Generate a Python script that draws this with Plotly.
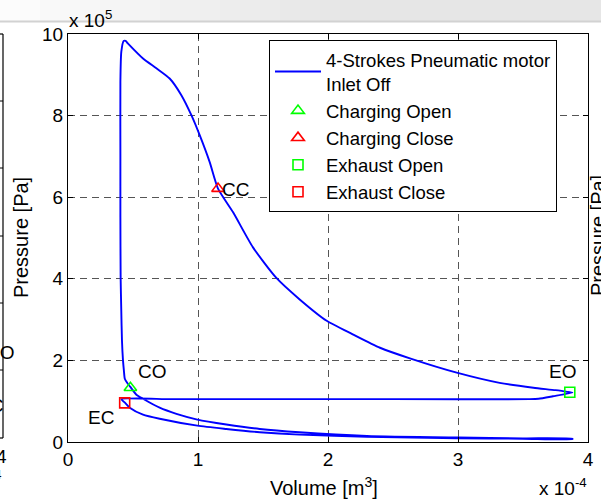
import plotly.graph_objects as go

# ---- data (volume in 1e-4 m^3, pressure in 1e5 Pa) ----
# full cycle: TDC after exhaust -> intake expansion (inlet off) -> compression -> charging -> expansion -> exhaust
cycle_volume = [
    0.41, 0.436, 0.475, 0.577, 0.705, 0.995, 1.218, 1.475, 1.78, 2.30, 3.00, 3.50, 3.88,
    3.88, 3.50, 3.00, 2.30, 1.78, 1.475, 1.218, 0.995, 0.834, 0.705, 0.577, 0.526, 0.48,
    0.455, 0.437, 0.43, 0.423, 0.415, 0.41, 0.405, 0.403, 0.403, 0.403, 0.41, 0.428, 0.443,
    0.46, 0.577, 0.68, 0.782, 0.872, 0.949, 1.013, 1.09, 1.154, 1.27, 1.423, 1.603, 1.78,
    1.99, 2.19, 2.40, 2.63, 2.99, 3.32, 3.58, 3.75, 3.86, 3.88,
    3.73, 3.62, 3.55, 2.50, 1.50, 0.80, 0.41,
]
cycle_pressure = [
    1.05, 0.97, 0.84, 0.67, 0.57, 0.40, 0.32, 0.24, 0.18, 0.13, 0.09, 0.08, 0.07,
    0.08, 0.09, 0.11, 0.15, 0.24, 0.32, 0.43, 0.55, 0.69, 0.84, 1.06, 1.16, 1.35,
    1.45, 1.55, 1.75, 2.0, 2.5, 3.2, 4.0, 5.5, 7.0, 8.82, 9.56, 9.83, 9.83,
    9.77, 9.40, 9.16, 8.91, 8.50, 8.01, 7.52, 6.86, 6.21, 5.63, 4.77, 4.02, 3.50,
    2.97, 2.64, 2.31, 2.05, 1.70, 1.45, 1.33, 1.27, 1.22, 1.21,
    1.12, 1.06, 1.05, 1.05, 1.05, 1.05, 1.05,
]

event_names = ["Charging Open", "Charging Close", "Exhaust Open", "Exhaust Close"]
event_labels = ["CO", "CC", "EO", "EC"]
event_volume = [0.48, 1.154, 3.86, 0.436]
event_pressure = [1.33, 6.21, 1.22, 0.96]
event_colors = ["#00ff00", "#ff0000", "#00ff00", "#ff0000"]
event_symbols = ["triangle-up-open", "triangle-up-open", "square-open", "square-open"]
event_label_volume = [0.648, 1.29, 3.80, 0.252]
event_label_pressure = [1.74, 6.2, 1.74, 0.59]

x_ticks = [0, 1, 2, 3, 4]
y_ticks = [0, 2, 4, 6, 8, 10]

FONT = "Arial, Liberation Sans, sans-serif"
W, H = 601, 502
L, R, T, B = 68, 588, 34, 442


def xp(px):
    return (px - L) / (R - L)


def yp(py):
    return (B - py) / (B - T)


fig = go.Figure()
fig.add_trace(go.Scatter(
    x=cycle_volume, y=cycle_pressure, mode="lines",
    line=dict(color="#0000ff", width=1.9, shape="spline", smoothing=0.6),
    name="4-Strokes Pneumatic motor<br>Inlet Off",
))
for nm, vx, py, col, sym in zip(event_names, event_volume, event_pressure, event_colors, event_symbols):
    fig.add_trace(go.Scatter(
        x=[vx], y=[py], mode="markers", name=nm,
        marker=dict(symbol=sym, size=11 if "triangle" in sym else 10,
                    color=col, line=dict(color=col, width=1.6)),
    ))


def ann(px, py, text, size=19, xanchor="center", angle=0):
    return dict(x=xp(px), y=yp(py), xref="paper", yref="paper", text=text,
                xanchor=xanchor, yanchor="middle", textangle=angle, showarrow=False,
                font=dict(size=size, color="black", family=FONT))


annotations = []
for lab, lx, ly in zip(event_labels, event_label_volume, event_label_pressure):
    annotations.append(dict(x=lx, y=ly, xref="x", yref="y", text=lab, showarrow=False,
                            xanchor="center", yanchor="middle",
                            font=dict(size=19, color="black", family=FONT)))

annotations += [
    ann(323.5, 486, "Volume [m<sup>3</sup>]", size=20),
    ann(21, 238, "Pressure [Pa]", size=20, angle=-90),
    ann(67, 19.5, "x 10<sup>5</sup>", xanchor="left"),
    ann(537, 487, "x 10<sup>-4</sup>", xanchor="left"),
    # fragments of neighbouring figures in the screenshot
    ann(598, 236, "Pressure [Pa]", size=20, angle=-90),
    ann(16, 352, "EO", xanchor="right"),
    ann(5, 405, "EC", xanchor="right"),
    ann(9, 456, "4", xanchor="right"),
    ann(4, 474, "-4", size=13, xanchor="right"),
]

shapes = []
step = 20
for i in range(0, W, step):
    g = int(round(252 - min(i, 330) / 330 * 22))
    shapes.append(dict(type="rect", xref="paper", yref="paper",
                       x0=xp(i), x1=xp(i + step + 1), y0=yp(21), y1=yp(0),
                       fillcolor=f"rgb({g},{g},{g})", line=dict(width=0), layer="below"))
shapes.append(dict(type="line", xref="paper", yref="paper", x0=xp(0), x1=xp(W), y0=yp(21.5), y1=yp(21.5),
                   line=dict(color="#d2d2d2", width=2)))
shapes.append(dict(type="line", xref="paper", yref="paper", x0=xp(3), x1=xp(3), y0=yp(34), y1=yp(438),
                   line=dict(color="black", width=1.2)))
for yy in [34, 438]:
    shapes.append(dict(type="line", xref="paper", yref="paper", x0=xp(0), x1=xp(3), y0=yp(yy), y1=yp(yy),
                       line=dict(color="black", width=1.2)))
for yy in [101, 168, 236, 303, 370]:
    shapes.append(dict(type="line", xref="paper", yref="paper", x0=xp(0), x1=xp(3), y0=yp(yy), y1=yp(yy),
                       line=dict(color="black", width=1)))

axis_common = dict(
    showline=True, linecolor="black", linewidth=1.2, mirror="ticks",
    ticks="inside", ticklen=5, tickwidth=1, tickcolor="black",
    showgrid=True, gridcolor="#555555", gridwidth=1, griddash="7px,5px",
    zeroline=False, tickfont=dict(size=19, color="black", family=FONT),
    automargin=False,
)

fig.update_layout(
    width=W, height=H, autosize=False,
    margin=dict(l=L, r=W - R, t=T, b=H - B, pad=0),
    paper_bgcolor="white", plot_bgcolor="white",
    font=dict(family=FONT, color="black"),
    xaxis=dict(range=[0, 4], tickvals=x_ticks, ticktext=[str(v) for v in x_ticks], **axis_common),
    yaxis=dict(range=[0, 10], tickvals=y_ticks, ticktext=[str(v) for v in y_ticks], **axis_common),
    showlegend=True,
    legend=dict(x=xp(269), y=yp(40), xanchor="left", yanchor="top",
                bgcolor="white", bordercolor="black", borderwidth=1,
                font=dict(size=18.5, color="black", family=FONT), itemwidth=46),
    annotations=annotations, shapes=shapes,
)

fig.write_html("out.html", config={"displayModeBar": False},
               post_script="document.body.style.margin='0px';")
